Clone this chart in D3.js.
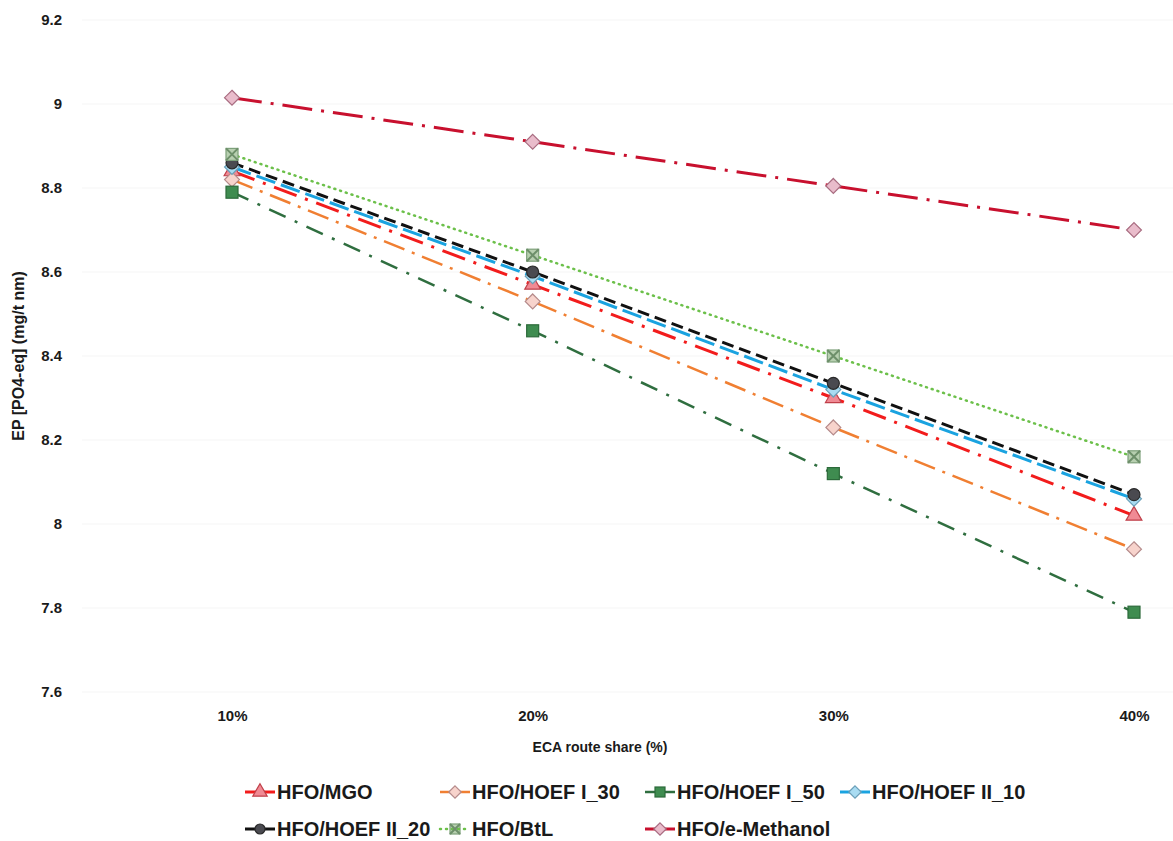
<!DOCTYPE html>
<html lang="en">
<head>
    <meta charset="utf-8">
    <title>EP vs ECA route share</title>
    <script src="https://d3js.org/d3.v7.min.js"></script>
    <style>
        body, html { margin: 0; padding: 0; background: #fff; overflow: hidden; }
        text { font-family: "Liberation Sans", Arial, sans-serif; font-weight: bold; fill: #1a1a1a; }
    </style>
</head>
<body>
<svg width="1173" height="841"></svg>
<script>
    // data
    var categories = ["10%", "20%", "30%", "40%"];
    var yTicks = [7.6, 7.8, 8, 8.2, 8.4, 8.6, 8.8, 9, 9.2];
    var seriesNames = ["HFO/MGO", "HFO/HOEF I_30", "HFO/HOEF I_50", "HFO/HOEF II_10",
                       "HFO/HOEF II_20", "HFO/BtL", "HFO/e-Methanol"];
    var mgo      = [8.84, 8.57, 8.30, 8.02];
    var hoefI30  = [8.82, 8.53, 8.23, 7.94];
    var hoefI50  = [8.79, 8.46, 8.12, 7.79];
    var hoefII10 = [8.85, 8.59, 8.32, 8.06];
    var hoefII20 = [8.86, 8.60, 8.335, 8.07];
    var btl      = [8.88, 8.64, 8.40, 8.16];
    var eMeth    = [9.015, 8.91, 8.805, 8.70];

    var styles = [
        { values: mgo,      line: "#f21c1c", dash: "24,9,3,9",  w: 3,   marker: "triangle", fill: "#f08a94", stroke: "#c0404a" },
        { values: hoefI30,  line: "#f07f32", dash: "22,8,3,8",  w: 2.5, marker: "diamond",  fill: "#f7d3cc", stroke: "#b58a8a" },
        { values: hoefI50,  line: "#2f6e3f", dash: "18,10,3,10",w: 2.5, marker: "square",   fill: "#3f8c50", stroke: "#2c6a3a" },
        { values: hoefII10, line: "#1aa3e0", dash: "20,6",      w: 3,   marker: "diamond",  fill: "#a9dcf2", stroke: "#6a9fb8" },
        { values: hoefII20, line: "#111111", dash: "12,6",      w: 3,   marker: "circle",   fill: "#4a4a50", stroke: "#2a2a2a" },
        { values: btl,      line: "#6cc04a", dash: "1,5",       w: 2.5, marker: "xbox",     fill: "#b7cfb0", stroke: "#7da07a" },
        { values: eMeth,    line: "#c8102e", dash: "30,9,3,9",  w: 3,   marker: "diamond",  fill: "#e9bccb", stroke: "#a86c80" }
    ];

    var svg = d3.select("svg");

    var x = d3.scalePoint().domain(categories).range([232, 1134]);
    var y = d3.scaleLinear().domain([7.6, 9.2]).range([692, 20]);

    // faint gridlines
    svg.append("g").selectAll("line").data(yTicks).enter().append("line")
        .attr("x1", 82).attr("x2", 1173)
        .attr("y1", function (d) { return y(d); }).attr("y2", function (d) { return y(d); })
        .attr("stroke", "#f5f5f5").attr("stroke-width", 1);

    // y axis tick labels
    var yAxis = d3.axisLeft(y).tickValues(yTicks).tickSize(0).tickPadding(0)
        .tickFormat(function (d) { return d3.format("")(+d.toFixed(1)); });
    svg.append("g").attr("transform", "translate(62,0)").call(yAxis)
        .call(function (g) { g.select(".domain").remove(); })
        .selectAll("text").style("font-size", "15px").style("font-family", null);

    // x axis tick labels
    var xAxis = d3.axisBottom(x).tickSize(0).tickPadding(0);
    svg.append("g").attr("transform", "translate(0,710)").call(xAxis)
        .call(function (g) { g.select(".domain").remove(); })
        .selectAll("text").style("font-size", "15px").style("font-family", null);

    // axis titles
    svg.append("text")
        .attr("transform", "translate(24," + 356 + ") rotate(-90)")
        .attr("text-anchor", "middle")
        .style("font-size", "16px")
        .text("EP [PO4-eq] (mg/t nm)");

    svg.append("text")
        .attr("x", 600).attr("y", 752)
        .attr("text-anchor", "middle")
        .style("font-size", "14px")
        .text("ECA route share (%)");

    var line = d3.line()
        .x(function (d, i) { return x(categories[i]); })
        .y(function (d) { return y(d); });

    function drawMarker(g, type, cx, cy, s, st) {
        var m;
        if (type === "triangle") {
            m = g.append("path").attr("d", d3.symbol().type(d3.symbolTriangle).size(s * 9)());
        } else if (type === "diamond") {
            m = g.append("path").attr("d", "M0,-" + s * 0.62 + "L" + s * 0.62 + ",0L0," + s * 0.62 + "L-" + s * 0.62 + ",0Z");
        } else if (type === "square") {
            m = g.append("rect").attr("x", -s / 2).attr("y", -s / 2).attr("width", s).attr("height", s);
        } else if (type === "circle") {
            m = g.append("circle").attr("r", s / 2);
        } else {
            m = g.append("rect").attr("x", -s / 2).attr("y", -s / 2).attr("width", s).attr("height", s);
            g.append("path")
                .attr("d", "M" + (-s / 2) + "," + (-s / 2) + "L" + s / 2 + "," + s / 2 +
                           "M" + s / 2 + "," + (-s / 2) + "L" + (-s / 2) + "," + s / 2)
                .attr("transform", "translate(" + cx + "," + cy + ")")
                .attr("stroke", "#6d8f6a").attr("stroke-width", 2);
        }
        m.attr("transform", "translate(" + cx + "," + cy + ")")
            .attr("fill", st.fill).attr("stroke", st.stroke).attr("stroke-width", 1.2);
    }

    // lines
    var plot = svg.append("g");
    styles.forEach(function (st) {
        plot.append("path")
            .datum(st.values)
            .attr("d", line)
            .attr("fill", "none")
            .attr("stroke", st.line)
            .attr("stroke-width", st.w)
            .attr("stroke-dasharray", st.dash)
            .attr("stroke-linecap", st.marker === "xbox" ? "round" : "butt");
    });

    // markers
    styles.forEach(function (st) {
        st.values.forEach(function (v, i) {
            var mg = plot.append("g");
            drawMarker(mg, st.marker, x(categories[i]), y(v), 12, st);
            if (st.marker === "xbox") mg.select("rect").lower();
        });
    });

    // legend
    var legendPos = [[245, 792], [440, 792], [645, 792], [840, 792],
                     [245, 829], [440, 829], [645, 829]];
    var legend = svg.append("g");
    styles.forEach(function (st, i) {
        var p = legendPos[i];
        var lg = legend.append("g");
        lg.append("line")
            .attr("x1", p[0]).attr("x2", p[0] + 30)
            .attr("y1", p[1]).attr("y2", p[1])
            .attr("stroke", st.line).attr("stroke-width", st.w)
            .attr("stroke-dasharray", st.marker === "xbox" ? "1,5" : null)
            .attr("stroke-linecap", st.marker === "xbox" ? "round" : "butt");
        drawMarker(lg, st.marker, p[0] + 15, p[1], 10, st);
        if (st.marker === "xbox") lg.select("rect").lower();
        lg.append("text")
            .attr("x", p[0] + 32).attr("y", p[1] + 7)
            .style("font-size", "20px")
            .text(seriesNames[i]);
    });
</script>
</body>
</html>
